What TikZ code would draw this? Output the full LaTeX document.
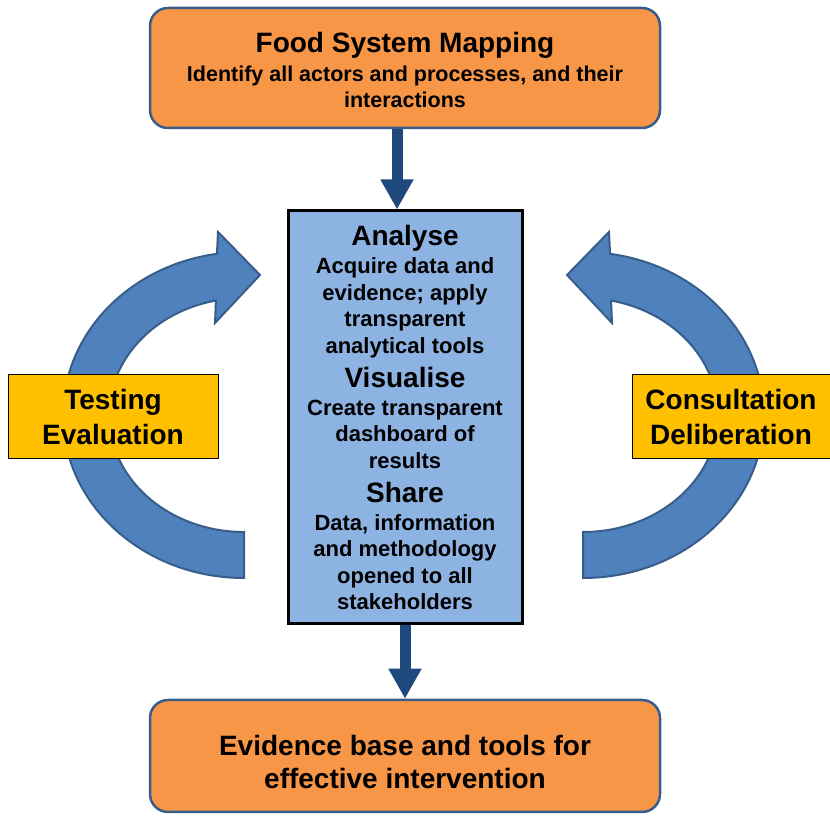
\documentclass[tikz,border=0pt]{standalone}
\usepackage{fontspec}
\setmainfont{Liberation Sans}
\usetikzlibrary{arrows.meta,positioning}

\definecolor{mapfill}{HTML}{F79646}
\definecolor{mapline}{HTML}{385D8A}
\definecolor{corefill}{HTML}{8DB3E2}
\definecolor{cyclefill}{HTML}{4F81BD}
\definecolor{flowblue}{HTML}{1F497D}
\definecolor{tagfill}{HTML}{FFC000}

\tikzset{
	cyclearrow/.pic={
        code={
\draw[mapline,line width=2pt,fill=cyclefill](0,-163)arc[start angle=270,end angle=98.6,x radius=181,y radius=163]
  --(-26,183)--(16,140)--(-29,92)--(-28.07,114.44)
  arc[start angle=102,end angle=270,x radius=135,y radius=117]--cycle;
							}
	}
}
\tikzset{
	mapbox/.style={draw=mapline,line width=2.5pt,fill=mapfill,rounded corners=18pt,minimum width=510pt,inner sep=0pt,align=center},
	corebox/.style={draw=black,line width=3pt,fill=corefill,minimum width=234pt,minimum height=413pt,inner sep=0pt,align=center,font=\bfseries\fontsize{22}{26.5}\selectfont},
	tagbox/.style={draw=black,line width=1pt,fill=tagfill,minimum height=84pt,inner sep=0pt,align=center,font=\bfseries\fontsize{28}{35}\selectfont},
	flow/.style={flowblue,line width=11pt,-{Triangle[width=31pt,length=30pt]}}
}
\newcommand{\stagehead}[1]{{\fontsize{28}{30}\selectfont #1}}

\begin{document}
\begin{tikzpicture}[x=1pt,y=1pt]
%Raster
%\draw[step=50,very thin,black!20] (0,0) grid(830,819);
\useasboundingbox (0,0) rectangle (830,819);
\path (244,404) pic {cyclearrow};
\path (583,404) pic[xscale=-1] {cyclearrow};
\node[mapbox,minimum height=120pt,text height=79pt,font=\bfseries\fontsize{21.5}{26}\selectfont] (map) at (405,751)
  {\stagehead{Food System Mapping}\\[2.5pt]Identify all actors and processes, and their\\interactions};
\node[corebox] (core) at (405,401.5)
  {\stagehead{Analyse}\\[1.5pt]Acquire data and\\evidence; apply\\transparent\\analytical tools\\[7.5pt]
   \stagehead{Visualise}\\[1.5pt]Create transparent\\dashboard of\\results\\[7.5pt]
   \stagehead{Share}\\[1.5pt]Data, information\\and methodology\\opened to all\\stakeholders};
\node[mapbox,minimum height=112pt,text height=65pt,font=\bfseries\fontsize{28}{33}\selectfont] (base) at (405,63)
  {Evidence base and tools for\\effective intervention};
\node[tagbox,minimum width=210pt] (test) at (113,402) {Testing\\Evaluation};
\node[tagbox,minimum width=198pt] (consult) at (731,402) {Consultation\\Deliberation};
\draw[flow] ([xshift=-8pt]map.south) -- ([xshift=-8pt]core.north);
\draw[flow] (core.south) -- (base.north);
\end{tikzpicture}
\end{document}
